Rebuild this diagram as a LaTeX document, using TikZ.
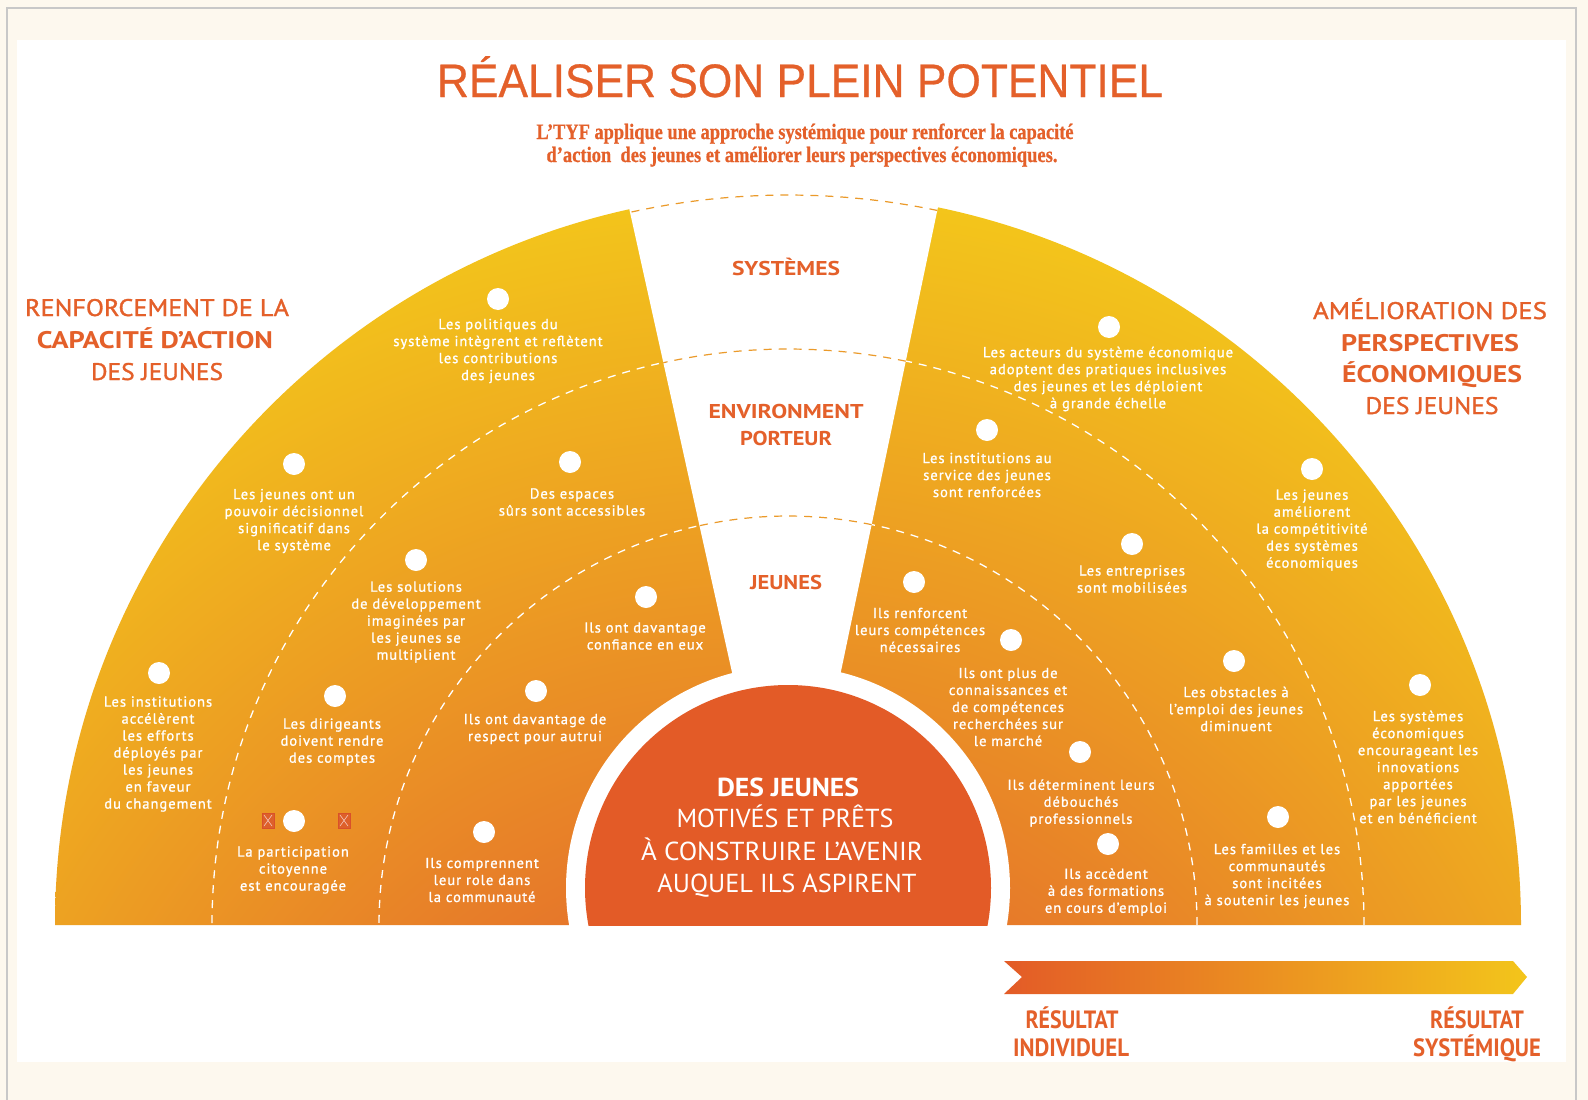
\documentclass[tikz,border=0pt]{standalone}
\usepackage{fontspec}
\setmainfont{PT Sans}
\newfontfamily\itemfont[LetterSpace=7, FakeBold=1.2]{PT Sans}
\newfontfamily\headfont[FakeBold=1.2]{PT Sans}
\newfontfamily\titlefont[FakeBold=0.6]{Liberation Sans}
\newfontfamily\subfont[FakeBold=0.8]{Liberation Serif}
\usepackage{graphicx}
\definecolor{orred}{HTML}{E4602A}
\definecolor{darkor}{HTML}{E35B27}
\definecolor{fanA}{HTML}{E2612A}
\definecolor{fanB}{HTML}{E6772A}
\definecolor{fanC}{HTML}{F3C51B}
\definecolor{wedgedash}{HTML}{EB9A2A}
\definecolor{cream}{HTML}{FDF8EE}
\definecolor{boxred}{HTML}{D9502A}
\definecolor{graybord}{HTML}{C8C8C8}
\pgfdeclareradialshading{fanshade}{\pgfpoint{0bp}{0bp}}{color(0bp)=(fanA); color(9.4bp)=(fanB); color(24.7bp)=(fanC); color(50bp)=(fanC)}
\newcommand{\fitw}[2]{\resizebox{#1}{\height}{#2}}
\tikzset{
  itemdot/.style={circle, fill=white, minimum size=22pt, inner sep=0pt},
  itemtext/.style={text=white, align=center, inner sep=0pt, font=\itemfont\fontsize{14.5}{17}\selectfont},
  headtext/.style={text=orred, inner sep=0pt, anchor=base},
  centertext/.style={text=white, inner sep=0pt, anchor=base},
  whitedash/.style={draw=white, line width=1.3pt, dash pattern=on 8pt off 7pt},
  wedgedashline/.style={draw=wedgedash, line width=1.2pt, dash pattern=on 8pt off 7pt},
  glyphbox/.style={draw=boxred, line width=0.8pt, fill=boxred!60!fanB}
}
\begin{document}
\begin{tikzpicture}[x=1pt,y=1pt]
\useasboundingbox (0,0) rectangle (1588,-1100);
% background
\fill[cream] (0,0) rectangle (1588,-1100);
\fill[white] (17,-40) rectangle (1566,-1062);
\draw[graybord, line width=1.2pt] (7,-1100) -- (7,-8) -- (1576,-8) -- (1576,-1100);
% fan
\begin{scope}
  \clip[shift={(788,-925)}] (0:733) arc[start angle=0, end angle=180, radius=733] -- cycle;
  \shade[shading=fanshade] (-360,-2420) rectangle (1880,-180);
\end{scope}
% white dashed rings
\draw[whitedash, shift={(788,-925)}] (0:409) arc[start angle=0, end angle=180, radius=409];
\draw[whitedash, shift={(788,-925)}] (0:576) arc[start angle=0, end angle=180, radius=576];
% wedge
\fill[white, shift={(788,-925)}] (0,0) -- (78.2:745) arc[start angle=78.2, end angle=102.5, radius=745] -- cycle;
\draw[wedgedashline, shift={(788,-925)}] (78.2:409) arc[start angle=78.2, end angle=102.5, radius=409];
\draw[wedgedashline, shift={(788,-925)}] (78.2:576) arc[start angle=78.2, end angle=102.5, radius=576];
\draw[wedgedashline, shift={(788,-925)}] (78.2:730) arc[start angle=78.2, end angle=102.5, radius=730];
% centre
\begin{scope}
  \clip (500,-925) rectangle (1100,-600);
  \fill[white] (788,-888) circle (222);
  \fill[darkor] (788,-888) circle (203);
\end{scope}
% title
\node[headtext, font=\titlefont\fontsize{47}{50}\selectfont] (title) at (800,-97) {\fitw{726pt}{RÉALISER SON PLEIN POTENTIEL}};
\node[headtext, font=\subfont\bfseries\fontsize{22}{24}\selectfont] (sub1) at (805,-139) {\fitw{537pt}{L’TYF applique une approche systémique pour renforcer la capacité}};
\node[headtext, font=\subfont\bfseries\fontsize{22}{24}\selectfont] (sub2) at (802,-162) {\fitw{511pt}{d’action\ \ des jeunes et améliorer leurs perspectives économiques.}};
% left heading
\node[headtext, font=\headfont\fontsize{24}{28}\selectfont] (lh1) at (157,-316) {\fitw{264pt}{RENFORCEMENT DE LA}};
\node[headtext, font=\bfseries\fontsize{24}{28}\selectfont] (lh2) at (155,-348) {\fitw{236pt}{CAPACITÉ D’ACTION}};
\node[headtext, font=\headfont\fontsize{24}{28}\selectfont] (lh3) at (157,-380) {\fitw{132pt}{DES JEUNES}};
% right heading
\node[headtext, font=\headfont\fontsize{24}{28}\selectfont] (rh1) at (1430,-319) {\fitw{234pt}{AMÉLIORATION DES}};
\node[headtext, font=\bfseries\fontsize{24}{28}\selectfont] (rh2) at (1430,-351) {\fitw{178pt}{PERSPECTIVES}};
\node[headtext, font=\bfseries\fontsize{24}{28}\selectfont] (rh3) at (1432,-382) {\fitw{180pt}{ÉCONOMIQUES}};
\node[headtext, font=\headfont\fontsize{24}{28}\selectfont] (rh4) at (1432,-414) {\fitw{133pt}{DES JEUNES}};
% wedge labels
\node[headtext, font=\bfseries\fontsize{20}{24}\selectfont] (w1) at (786,-275) {\fitw{108pt}{SYSTÈMES}};
\node[headtext, font=\bfseries\fontsize{20}{24}\selectfont] (w2) at (786,-418) {\fitw{155pt}{ENVIRONMENT}};
\node[headtext, font=\bfseries\fontsize{20}{24}\selectfont] (w3) at (786,-445) {\fitw{92pt}{PORTEUR}};
\node[headtext, font=\bfseries\fontsize{20}{24}\selectfont] (w4) at (786,-589) {\fitw{72pt}{JEUNES}};
% centre text
\node[centertext, font=\bfseries\fontsize{26}{30}\selectfont] (c1) at (788,-796) {\fitw{142pt}{DES JEUNES}};
\node[centertext, font=\fontsize{26}{30}\selectfont] (c2) at (785,-827) {\fitw{217pt}{MOTIVÉS ET PRÊTS}};
\node[centertext, font=\fontsize{26}{30}\selectfont] (c3) at (782,-860) {\fitw{282pt}{À CONSTRUIRE L’AVENIR}};
\node[centertext, font=\fontsize{26}{30}\selectfont] (c4) at (787,-892) {\fitw{259pt}{AUQUEL ILS ASPIRENT}};
% items left
\node[itemdot] (d1) at (498,-299) {};
\node[itemtext] (t1) at (498,-351) {Les politiques du\\système intègrent et reflètent\\les contributions\\des jeunes};
\node[itemdot] (d2) at (294,-464) {};
\node[itemtext] (t2) at (294,-521) {Les jeunes ont un\\pouvoir décisionnel\\significatif dans\\le système};
\node[itemdot] (d3) at (570,-462) {};
\node[itemtext] (t3) at (572,-502) {Des espaces\\sûrs sont accessibles};
\node[itemdot] (d4) at (416,-560) {};
\node[itemtext] (t4) at (416,-622) {Les solutions\\de développement\\imaginées par\\les jeunes se\\multiplient};
\node[itemdot] (d5) at (646,-597) {};
\node[itemtext] (t5) at (645,-636) {Ils ont davantage\\confiance en eux};
\node[itemdot] (d6) at (159,-673) {};
\node[itemtext] (t6) at (158,-754) {Les institutions\\accélèrent\\les efforts\\déployés par\\les jeunes\\en faveur\\du changement};
\node[itemdot] (d7) at (335,-696) {};
\node[itemtext] (t7) at (332,-742) {Les dirigeants\\doivent rendre\\des comptes};
\node[itemdot] (d8) at (536,-691) {};
\node[itemtext] (t8) at (535,-729) {Ils ont davantage de\\respect pour autrui};
\node[itemdot] (d9) at (294,-821) {};
\node[itemtext] (t9) at (293,-870) {La participation\\citoyenne\\est encouragée};
\node[itemdot] (d10) at (484,-832) {};
\node[itemtext] (t10) at (482,-880) {Ils comprennent\\leur role dans\\la communauté};
% glyph boxes
\draw[glyphbox] (262,-813) rectangle (274,-828);
\draw[white!70!boxred, line width=0.6pt] (264,-815) -- (272,-826) (272,-815) -- (264,-826);
\draw[glyphbox] (338,-813) rectangle (350,-828);
\draw[white!70!boxred, line width=0.6pt] (340,-815) -- (348,-826) (348,-815) -- (340,-826);
% items right
\node[itemdot] (d11) at (1109,-327) {};
\node[itemtext] (t11) at (1108,-379) {Les acteurs du système économique\\adoptent des pratiques inclusives\\des jeunes et les déploient\\à grande échelle};
\node[itemdot] (d12) at (987,-430) {};
\node[itemtext] (t12) at (987,-475) {Les institutions au\\service des jeunes\\sont renforcées};
\node[itemdot] (d13) at (1312,-469) {};
\node[itemtext] (t13) at (1312,-530) {Les jeunes\\améliorent\\la compétitivité\\des systèmes\\économiques};
\node[itemdot] (d14) at (1132,-544) {};
\node[itemtext] (t14) at (1132,-579) {Les entreprises\\sont mobilisées};
\node[itemdot] (d15) at (914,-582) {};
\node[itemtext] (t15) at (920,-630) {Ils renforcent\\leurs compétences\\nécessaires};
\node[itemdot] (d16) at (1011,-640) {};
\node[itemtext] (t16) at (1008,-707) {Ils ont plus de\\connaissances et\\de compétences\\recherchées sur\\le marché};
\node[itemdot] (d17) at (1234,-661) {};
\node[itemtext] (t17) at (1236,-709) {Les obstacles à\\l’emploi des jeunes\\diminuent};
\node[itemdot] (d18) at (1420,-685) {};
\node[itemtext] (t18) at (1418,-767) {Les systèmes\\économiques\\encourageant les\\innovations\\apportées\\par les jeunes\\et en bénéficient};
\node[itemdot] (d19) at (1080,-752) {};
\node[itemtext] (t19) at (1081,-803) {Ils déterminent leurs\\débouchés\\professionnels};
\node[itemdot] (d20) at (1278,-817) {};
\node[itemtext] (t20) at (1277,-876) {Les familles et les\\communautés\\sont incitées\\à soutenir les jeunes};
\node[itemdot] (d21) at (1108,-844) {};
\node[itemtext] (t21) at (1106,-892) {Ils accèdent\\à des formations\\en cours d’emploi};
% arrow
\shade[left color=darkor, right color=fanC] (1004,-961) -- (1513,-961) -- (1527,-977) -- (1513,-994) -- (1004,-994) -- (1022,-977) -- cycle;
\node[headtext, font=\bfseries\fontsize{25}{28}\selectfont] (b1) at (1072,-1028) {\fitw{93pt}{RÉSULTAT}};
\node[headtext, font=\bfseries\fontsize{25}{28}\selectfont] (b2) at (1071,-1056) {\fitw{116pt}{INDIVIDUEL}};
\node[headtext, font=\bfseries\fontsize{25}{28}\selectfont] (b3) at (1477,-1028) {\fitw{94pt}{RÉSULTAT}};
\node[headtext, font=\bfseries\fontsize{25}{28}\selectfont] (b4) at (1477,-1056) {\fitw{128pt}{SYSTÉMIQUE}};
\end{tikzpicture}
\end{document}
